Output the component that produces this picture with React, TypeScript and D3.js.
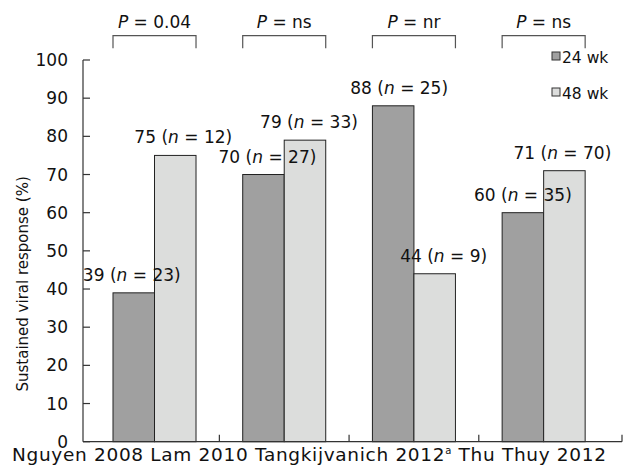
import React from 'react';
import * as d3 from 'd3';

// study labels
const categories = ['Nguyen 2008', 'Lam 2010', 'Tangkijvanich 2012', 'Thu Thuy 2012'];
const footnotes = ['', '', 'a', ''];
const seriesNames = ['24 wk', '48 wk'];

// SVR % and group sizes
const svr24 = [39, 70, 88, 60];
const n24 = [23, 27, 25, 35];
const svr48 = [75, 79, 44, 71];
const n48 = [12, 33, 9, 70];

const pValues = ['0.04', 'ns', 'nr', 'ns'];
const yTicks = [0, 10, 20, 30, 40, 50, 60, 70, 80, 90, 100];

// small horizontal nudges so the value labels sit like the original
const nudge24 = [-2, 4, 6, 0];
const nudge48 = [8, 4, 9, -2];

const W = 624;
const H = 466;
const FONT = '"DejaVu Sans", Verdana, sans-serif';
const colors = ['#a0a0a0', '#dcdddc'];

export default function App() {
  const axisLeft = 83;
  const axisRight = 622;
  const y = d3.scaleLinear().domain([0, 100]).range([441.7, 60]);
  const x = d3.scaleBand<string>()
    .domain(categories)
    .range([89.65, 608.5])
    .paddingInner(0.36)
    .paddingOuter(0.18);
  const xs = d3.scaleBand<string>().domain(seriesNames).range([0, x.bandwidth()]);
  const gap = x.step() * 0.36;

  const values = [svr24, svr48];
  const ns = [n24, n48];
  const nudges = [nudge24, nudge48];

  // tick marks between groups plus one at the end of the axis
  const xTicks = categories.slice(1).map(c => (x(c) as number) - gap / 2).concat([axisRight]);

  // category row: plain spans, footnote raised, following span dropped back
  const rowSpans: { t: string; dy: number; small: boolean }[] = [];
  let raised = false;
  categories.forEach((c, i) => {
    rowSpans.push({ t: (i > 0 ? ' ' : '') + c, dy: raised ? 7 : 0, small: false });
    raised = false;
    if (footnotes[i]) {
      rowSpans.push({ t: footnotes[i], dy: -7, small: true });
      raised = true;
    }
  });

  return (
    <svg width={W} height={H} style={{ position: 'absolute', left: 0, top: 0, background: '#fff' }}
      fontFamily={FONT}>
      {/* bars */}
      {seriesNames.map((s, si) => (
        <g key={s}>
          {categories.map((c, i) => (
            <rect key={c}
              x={(x(c) as number) + (xs(s) as number)}
              y={y(values[si][i])}
              width={xs.bandwidth()}
              height={y(0) - y(values[si][i])}
              fill={colors[si]} stroke="#222" strokeWidth={1} />
          ))}
        </g>
      ))}

      {/* value labels */}
      {seriesNames.map((s, si) => (
        <g key={s} fontSize={17} fill="#111">
          {categories.map((c, i) => (
            <text key={c}
              x={(x(c) as number) + (xs(s) as number) + xs.bandwidth() / 2 + nudges[si][i]}
              y={y(values[si][i]) - 12}
              textAnchor="middle">
              {values[si][i]} (<tspan fontStyle="italic">n</tspan> = {ns[si][i]})
            </text>
          ))}
        </g>
      ))}

      {/* axes */}
      <g stroke="#333" strokeWidth={1.2} fill="none">
        <line x1={axisLeft} x2={axisLeft} y1={y(100)} y2={y(0)} />
        <line x1={axisLeft} x2={axisRight} y1={y(0)} y2={y(0)} />
        {yTicks.map(t => (
          <line key={t} x1={axisLeft} x2={axisLeft + 7} y1={y(t)} y2={y(t)} />
        ))}
        {xTicks.map((t, i) => (
          <line key={i} x1={t} x2={t} y1={y(0)} y2={y(0) - 7} />
        ))}
      </g>
      <g fontSize={17} fill="#111" textAnchor="end">
        {yTicks.map(t => (
          <text key={t} x={68} y={y(t)} dy="0.36em">{t}</text>
        ))}
      </g>
      <text transform={`translate(28,${(y(0) + y(100)) / 2 + 33}) rotate(-90)`}
        textAnchor="middle" fontSize={15} fill="#111">Sustained viral response (%)</text>

      {/* category labels as one row */}
      <text x={12} y={461} fontSize={18.5} fill="#111" textLength={594} lengthAdjust="spacing">
        {rowSpans.map((sp, k) => (
          <tspan key={k} dy={sp.dy} fontSize={sp.small ? 10 : undefined}>{sp.t}</tspan>
        ))}
      </text>

      {/* P value brackets */}
      {categories.map((c, i) => {
        const x0 = x(c) as number;
        const x1 = x0 + x.bandwidth();
        return (
          <g key={c}>
            <path d={`M${x0},48.3V35.7H${x1}V48.3`} fill="none" stroke="#555" strokeWidth={1.2} />
            <text x={(x0 + x1) / 2} y={28} textAnchor="middle" fontSize={17} fill="#111">
              <tspan fontStyle="italic">P</tspan> = {pValues[i]}
            </text>
          </g>
        );
      })}

      {/* legend */}
      {seriesNames.map((s, si) => (
        <g key={s} transform={`translate(552,${52 + si * 36})`}>
          <rect x={0} y={0} width={8} height={8} fill={colors[si]} stroke="#333" strokeWidth={1} />
          <text x={10} y={11} fontSize={15.5} fill="#111">{s}</text>
        </g>
      ))}
    </svg>
  );
}
